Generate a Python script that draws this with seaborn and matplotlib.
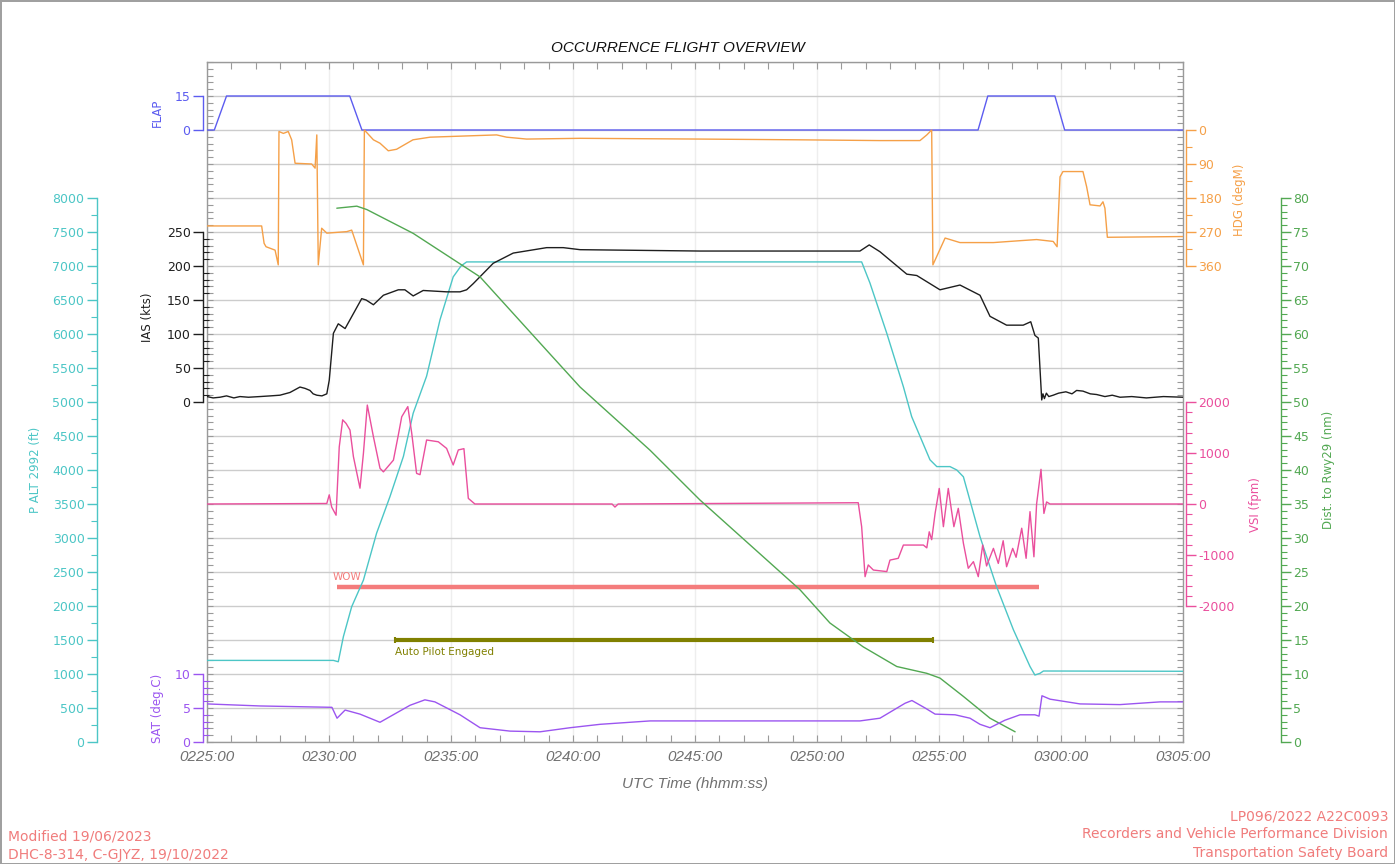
import numpy as np
import matplotlib
matplotlib.use('Agg')
import matplotlib.pyplot as plt
from matplotlib.ticker import FixedLocator, MultipleLocator
import seaborn as sns

# time axis: minutes after 0225:00 UTC
start_min = 2 * 60 + 25
span_min = 40

flap_t = [0, 0.3, 0.8, 5.85, 6.35, 31.6, 32.0, 34.75, 35.15, 40]
flap = [0, 0, 15, 15, 0, 0, 15, 15, 0, 0]

hdg_t = [0, 2.24, 2.34, 2.42, 2.79, 2.92, 2.95, 3.13, 3.33, 3.47, 3.61, 4.29, 4.43, 4.50,
         4.56, 4.70, 4.91, 5.73, 5.93, 6.41, 6.45, 6.82, 7.09, 7.43, 7.77, 8.44, 9.14, 11.87,
         12.28, 13.10, 15.29, 20.2, 24.3, 27.58, 29.22, 29.5, 29.70, 29.75, 30.25, 30.86,
         32.23, 33.32, 34.0, 34.68, 34.84, 34.96, 35.08, 35.9, 36.05, 36.19, 36.6, 36.72,
         36.8, 36.9, 40]
hdg = [254, 254, 300, 309, 318, 357, 4, 9, 4, 26, 88, 90, 101, 13, 357, 260, 273, 269, 265,
       357, 0, 26, 35, 55, 51, 26, 19, 13, 19, 24, 22, 24, 26, 28, 28, 13, 0, 357, 286, 298,
       298, 293, 290, 295, 309, 124, 110, 110, 150, 198, 201, 190, 207, 284, 282]

ias_t = [0, 0.25, 0.53, 0.8, 1.1, 1.35, 1.7, 2.17, 2.6, 2.99, 3.40, 3.81, 4.02, 4.22, 4.35,
         4.50, 4.71, 4.91, 5.01, 5.18, 5.38, 5.66, 6.00, 6.34, 6.52, 6.82, 7.23, 7.84, 8.11,
         8.45, 8.86, 9.82, 10.37, 10.64, 10.91, 11.73, 12.55, 13.92, 14.60, 15.29, 20.2,
         26.76, 27.14, 27.58, 28.68, 29.09, 30.04, 30.86, 31.68, 32.09, 32.77, 33.45, 33.76,
         33.93, 34.07, 34.21, 34.26, 34.32, 34.40, 34.50, 34.68, 34.9, 35.2, 35.45, 35.64,
         35.9, 36.2, 36.46, 36.8, 37.1, 37.42, 37.9, 38.5, 39.2, 40]
ias = [8, 6, 7, 9, 6, 8, 7, 8, 9, 10, 14, 22, 20, 17, 12, 10, 9, 12, 32, 101, 115, 108,
       130, 152, 150, 143, 157, 165, 165, 156, 164, 162, 162, 165, 174, 204, 219, 227, 227,
       224, 222, 222, 231, 221, 188, 186, 165, 172, 157, 126, 113, 113, 118, 98, 94, 3, 12,
       5, 13, 8, 10, 13, 15, 12, 17, 16, 12, 11, 8, 10, 7, 8, 6, 8, 7]

alt_t = [0, 2.99, 5.18, 5.38, 5.59, 5.93, 6.41, 6.95, 7.50, 8.05, 8.45, 9.00, 9.55, 10.09,
         10.41, 10.64, 26.83, 27.17, 27.86, 28.54, 28.88, 29.63, 29.91, 30.45, 30.73, 31.00,
         31.68, 32.36, 33.05, 33.73, 33.93, 34.14, 34.28, 40]
alt = [1200, 1200, 1200, 1180, 1550, 1990, 2380, 3070, 3610, 4200, 4835, 5380, 6210, 6840,
       7000, 7060, 7060, 6750, 6010, 5225, 4785, 4150, 4050, 4050, 4000, 3900, 3020, 2285,
       1650, 1110, 985, 1010, 1044, 1040]

vsi_t = [0, 4.91, 5.01, 5.11, 5.29, 5.42, 5.56, 5.70, 5.86, 6.00, 6.27, 6.41, 6.57, 6.82,
         7.09, 7.23, 7.64, 7.84, 7.98, 8.23, 8.39, 8.59, 8.73, 9.00, 9.48, 9.82, 10.09, 10.30,
         10.53, 10.71, 10.98, 16.6, 16.72, 16.85, 26.69, 26.83, 26.97, 27.10, 27.31, 27.86,
         27.99, 28.33, 28.54, 29.36, 29.50, 29.60, 29.70, 29.84, 30.01, 30.18, 30.38, 30.61,
         30.79, 31.00, 31.20, 31.41, 31.61, 31.79, 31.95, 32.23, 32.43, 32.63, 32.77, 33.02,
         33.16, 33.39, 33.57, 33.73, 33.89, 34.00, 34.18, 34.30, 34.41, 34.55, 40]
vsi = [0, 10, 180, -60, -220, 1120, 1650, 1580, 1450, 930, 310, 990, 1940, 1320, 700, 630,
       860, 1350, 1710, 1910, 1390, 600, 575, 1255, 1220, 1090, 765, 1060, 1085, 110, 0, 0,
       -60, 0, 25, -445, -1425, -1195, -1295, -1325, -1100, -1065, -805, -805, -860, -545,
       -700, -185, 305, -445, 305, -445, -85, -770, -1260, -1130, -1425, -805, -1215, -870,
       -1165, -720, -1230, -870, -1045, -475, -1065, -150, -1035, 0, 680, -185, 40, 0, 0]

dist_t = [5.32, 6.14, 6.55, 8.45, 11.19, 13.92, 15.29, 18.16, 20.20, 22.25, 24.30, 25.53,
          26.89, 28.27, 29.50, 30.04, 31.00, 32.09, 33.12]
dist = [78.5, 78.8, 78.3, 74.8, 68.4, 57.6, 52.2, 42.9, 35.6, 29.0, 22.4, 17.5, 14.0, 11.1,
        10.1, 9.4, 6.7, 3.5, 1.5]

sat_t = [0, 2.17, 5.12, 5.33, 5.66, 6.27, 7.09, 8.32, 8.93, 9.34, 10.37, 11.19, 12.42, 13.65,
         14.88, 16.11, 18.16, 26.76, 27.58, 28.61, 28.89, 29.43, 29.84, 30.66, 31.27, 31.68,
         32.09, 32.70, 33.32, 33.93, 34.10, 34.22, 34.55, 35.78, 37.42, 39.06, 40]
sat = [5.6, 5.3, 5.1, 3.5, 4.7, 4.1, 2.9, 5.4, 6.2, 5.9, 4.0, 2.1, 1.6, 1.5, 2.1, 2.6, 3.1,
       3.1, 3.5, 5.7, 6.1, 5.0, 4.1, 4.0, 3.5, 2.6, 2.1, 3.2, 4.0, 4.0, 3.8, 6.8, 6.3, 5.6,
       5.5, 5.9, 5.9]

# discrete events (on, off)
wow_on, wow_off = 5.33, 34.10
ap_on, ap_off = 7.70, 29.75

C_FLAP = '#5c5cf0'
C_HDG = '#f5a048'
C_IAS = '#1e1e1e'
C_ALT = '#4cc6c6'
C_VSI = '#ea4f9d'
C_DIST = '#52a852'
C_SAT = '#9b55f0'
C_WOW = '#f47c7c'
C_AP = '#808000'
C_FOOT = '#f07c7c'
C_GREY = '#707070'

sns.set_theme(style='white')
plt.rcParams['font.family'] = ['DejaVu Sans']
plt.rcParams['axes.unicode_minus'] = False

PX = 0.72  # points per pixel at 100 dpi

fig = plt.figure(figsize=(13.95, 8.64), dpi=100)
fig.patch.set_edgecolor('#a0a0a0')
fig.patch.set_linewidth(2)

ax = fig.add_axes([207 / 1395, 1 - 742 / 864, 976 / 1395, 680 / 864])
ax.set_ylim(0, 10000)


def make_twin(side, offset_px, lim, color, bounds, major, minor, minor_dir):
    t = ax.twinx()
    t.set_ylim(*lim)
    for name, s in t.spines.items():
        s.set_visible(name == side)
    sp = t.spines[side]
    sp.set_position(('outward', offset_px * PX))
    sp.set_color(color)
    sp.set_linewidth(1)
    sp.set_bounds(*bounds)
    if side == 'left':
        t.yaxis.tick_left()
    else:
        t.yaxis.tick_right()
    t.yaxis.set_major_locator(FixedLocator(major))
    t.yaxis.set_minor_locator(FixedLocator(minor))
    t.tick_params(axis='y', which='major', colors=color, labelsize=9, direction='out',
                  length=7, width=1, pad=2)
    t.tick_params(axis='y', which='minor', color=color, direction=minor_dir, length=4, width=0.8)
    t.grid(False)
    return t


ax_alt = make_twin('left', 110, (0, 10000), C_ALT, (0, 8000),
                   np.arange(0, 8001, 500), np.arange(250, 8000, 500), 'out')
ax_flap = make_twin('left', 4, (-270, 30), C_FLAP, (0, 15), [0, 15], [], 'in')
ax_hdg = make_twin('right', 3, (1620, -180), C_HDG, (0, 360),
                   np.arange(0, 361, 90), np.arange(45, 360, 90), 'out')
ax_ias = make_twin('left', 4, (-500, 500), C_IAS, (0, 250),
                   np.arange(0, 251, 50), np.arange(0, 251, 10), 'in')
ax_vsi = make_twin('right', 3, (-4666.7, 8666.7), C_VSI, (-2000, 2000),
                   np.arange(-2000, 2001, 1000), np.arange(-2000, 2001, 200), 'out')
ax_dist = make_twin('right', 98, (0, 100), C_DIST, (0, 80),
                    np.arange(0, 81, 5), np.arange(0, 81, 1), 'out')
ax_sat = make_twin('left', 4, (0, 100), C_SAT, (0, 10), [0, 5, 10], np.arange(0, 11, 1), 'in')

series = [
    (ax_alt, alt_t, alt, C_ALT),
    (ax_flap, flap_t, flap, C_FLAP),
    (ax_hdg, hdg_t, hdg, C_HDG),
    (ax_ias, ias_t, ias, C_IAS),
    (ax_vsi, vsi_t, vsi, C_VSI),
    (ax_dist, dist_t, dist, C_DIST),
    (ax_sat, sat_t, sat, C_SAT),
]
for a, tx, ty, col in series:
    sns.lineplot(x=tx, y=ty, ax=a, color=col, linewidth=1.0, estimator=None, sort=False)

# keep limits fixed after seaborn autoscaling
ax_alt.set_ylim(0, 10000)
ax_flap.set_ylim(-270, 30)
ax_hdg.set_ylim(1620, -180)
ax_ias.set_ylim(-500, 500)
ax_vsi.set_ylim(-4666.7, 8666.7)
ax_dist.set_ylim(0, 100)
ax_sat.set_ylim(0, 100)

# event bars
trans = ax.get_xaxis_transform()
ax.hlines(0.228, wow_on, wow_off, transform=trans, color=C_WOW, lw=3.2)
ax.text(wow_on - 0.2, 0.2426, 'WOW', transform=trans, color=C_WOW, fontsize=7.5,
        ha='left', va='center')
ax.hlines(0.15, ap_on, ap_off, transform=trans, color=C_AP, lw=3.0)
ax.vlines([ap_on, ap_off], 0.145, 0.155, transform=trans, color=C_AP, lw=1.5)
ax.text(ap_on, 0.1324, 'Auto Pilot Engaged', transform=trans, color=C_AP, fontsize=7.5,
        ha='left', va='center')

# frame, grid and time ticks
ax.set_xlim(0, span_min)
major_t = np.arange(0, span_min + 1, 5)
labels = []
for m in major_t:
    tot = start_min + m
    labels.append(f"{tot // 60:02d}{tot % 60:02d}:00")
ax.set_xticks(major_t, labels, fontstyle='italic', fontfamily='Liberation Sans',
              fontsize=11, color=C_GREY)
ax.xaxis.set_minor_locator(MultipleLocator(1))
ax.yaxis.set_major_locator(MultipleLocator(500))
ax.yaxis.set_minor_locator(MultipleLocator(100))
ax.tick_params(axis='y', which='both', left=True, right=True, labelleft=False,
               labelright=False, direction='in', length=4, color='#9a9a9a', width=0.8)
ax.tick_params(axis='x', which='both', top=True, bottom=True, direction='in', length=5,
               color='#9a9a9a', width=0.8, pad=6)
for s in ax.spines.values():
    s.set_color('#9a9a9a')
    s.set_linewidth(1)
ax.grid(axis='y', which='major', color='#cccccc', lw=1)
ax.grid(axis='x', which='major', color='#eeeeee', lw=1)
ax.set_axisbelow(True)

# axis titles
axis_titles = [
    ('FLAP', -0.0512, 0.925, C_FLAP),
    ('IAS (kts)', -0.0605, 0.625, C_IAS),
    ('SAT (deg.C)', -0.0512, 0.05, C_SAT),
    ('P ALT 2992 (ft)', -0.176, 0.40, C_ALT),
    ('HDG (degM)', 1.058, 0.797, C_HDG),
    ('VSI (fpm)', 1.074, 0.3485, C_VSI),
    ('Dist. to Rwy29 (nm)', 1.1486, 0.40, C_DIST),
]
for txt, x, y, col in axis_titles:
    ax.text(x, y, txt, transform=ax.transAxes, rotation=90, ha='center', va='center',
            color=col, fontsize=8.5)

fig.text(678 / 1395, 1 - 48 / 864, 'OCCURRENCE FLIGHT OVERVIEW', ha='center', va='center',
         fontstyle='italic', fontfamily='Liberation Sans', fontsize=11, color='#111111')
fig.text(695 / 1395, 1 - 784 / 864, 'UTC Time (hhmm:ss)', ha='center', va='center',
         fontstyle='italic', fontfamily='Liberation Sans', fontsize=11, color=C_GREY)

# footer
fig.text(8 / 1395, 1 - 836 / 864, 'Modified 19/06/2023', ha='left', va='center',
         color=C_FOOT, fontsize=10)
fig.text(8 / 1395, 1 - 855 / 864, 'DHC-8-314, C-GJYZ, 19/10/2022', ha='left', va='center',
         color=C_FOOT, fontsize=10)
fig.text(1388 / 1395, 1 - 817 / 864, 'LP096/2022 A22C0093', ha='right', va='center',
         color=C_FOOT, fontsize=10)
fig.text(1388 / 1395, 1 - 834 / 864, 'Recorders and Vehicle Performance Division',
         ha='right', va='center', color=C_FOOT, fontsize=10)
fig.text(1388 / 1395, 1 - 853 / 864, 'Transportation Safety Board', ha='right', va='center',
         color=C_FOOT, fontsize=10)

fig.savefig('out.png', dpi=100)
